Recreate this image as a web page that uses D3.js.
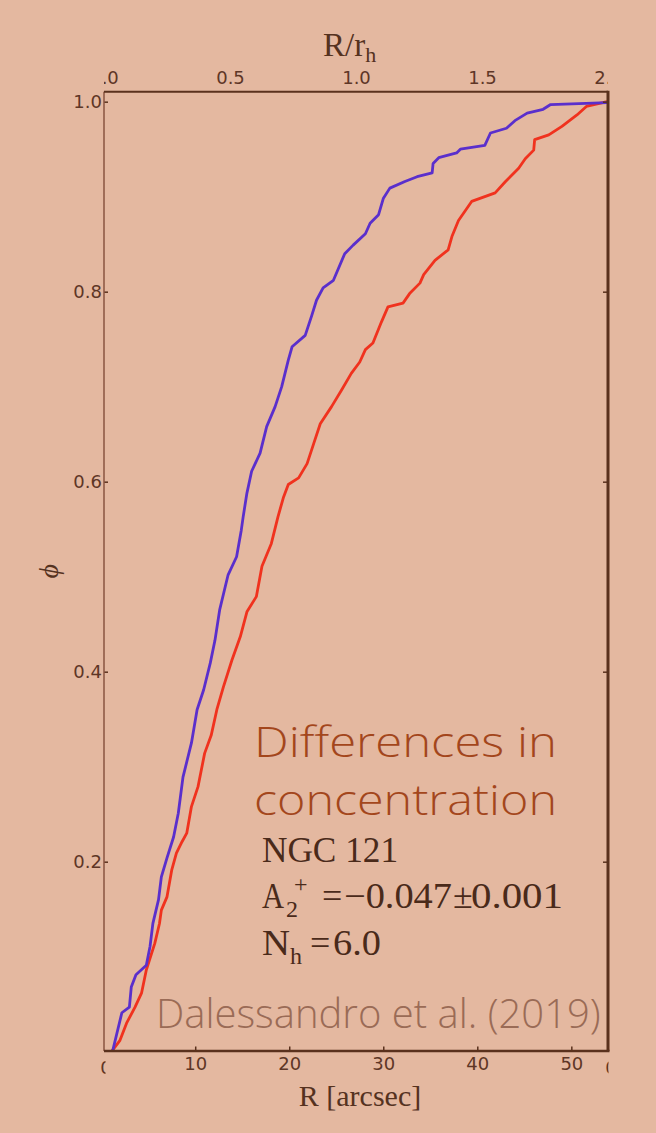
<!DOCTYPE html>
<html>
<head>
<meta charset="utf-8">
<script src="https://cdn.jsdelivr.net/npm/d3@7"></script>
<style>
  body { margin: 0; background: #e4b8a0; }
  svg { display: block; }
</style>
</head>
<body>
<div id="chart"></div>
<script>
// ---- data ----
// R in arcsec, phi = cumulative fraction
const blueR   = [1.2, 2.2, 3.0, 3.2, 3.7, 4.8, 5.2, 5.5, 6.1, 6.4, 7.0, 7.7, 8.2, 8.7, 9.6, 10.2, 10.9, 11.6, 12.1, 12.6, 13.5, 14.4, 14.9, 15.1, 15.5, 16.0, 16.9, 17.6, 18.5, 19.2, 19.9, 20.3, 21.7, 22.4, 22.9, 23.6, 24.7, 25.9, 26.8, 28.1, 28.6, 29.5, 30.0, 30.7, 32.3, 33.6, 35.2, 35.3, 35.9, 37.8, 38.2, 40.8, 41.4, 43.1, 44.0, 45.3, 47.0, 47.8, 53.8];
const bluePhi = [0, 0.041, 0.047, 0.068, 0.081, 0.091, 0.111, 0.135, 0.160, 0.184, 0.204, 0.226, 0.251, 0.289, 0.325, 0.360, 0.381, 0.409, 0.433, 0.465, 0.502, 0.521, 0.549, 0.563, 0.588, 0.611, 0.630, 0.658, 0.679, 0.700, 0.728, 0.742, 0.754, 0.775, 0.791, 0.804, 0.812, 0.840, 0.849, 0.861, 0.872, 0.881, 0.898, 0.909, 0.916, 0.921, 0.925, 0.935, 0.941, 0.946, 0.950, 0.954, 0.967, 0.972, 0.980, 0.988, 0.992, 0.997, 0.999];

const redR   = [1.1, 2.0, 2.7, 3.6, 4.3, 4.8, 5.7, 6.2, 6.4, 7.0, 7.5, 8.0, 8.6, 9.1, 9.6, 10.3, 11.0, 11.7, 12.3, 13.0, 13.9, 14.8, 15.5, 16.5, 17.1, 18.1, 18.8, 19.4, 19.9, 21.0, 21.9, 22.6, 23.3, 24.5, 25.6, 26.6, 27.5, 28.1, 28.9, 29.8, 30.5, 32.1, 32.8, 33.9, 34.3, 35.5, 36.9, 37.3, 38.0, 39.4, 41.9, 43.0, 44.4, 45.1, 46.0, 46.1, 47.6, 49.0, 50.6, 51.6, 53.8];
const redPhi = [0, 0.012, 0.030, 0.047, 0.062, 0.086, 0.114, 0.135, 0.149, 0.163, 0.191, 0.209, 0.221, 0.230, 0.258, 0.279, 0.314, 0.333, 0.360, 0.384, 0.412, 0.437, 0.463, 0.479, 0.511, 0.535, 0.563, 0.584, 0.597, 0.604, 0.619, 0.640, 0.661, 0.679, 0.697, 0.714, 0.726, 0.739, 0.746, 0.768, 0.784, 0.788, 0.798, 0.809, 0.818, 0.833, 0.844, 0.858, 0.875, 0.895, 0.904, 0.916, 0.930, 0.940, 0.949, 0.960, 0.965, 0.974, 0.986, 0.995, 1.0];

const bottomTicks = [10, 20, 30, 40, 50];
const topTicks = [0, 0.5, 1.0, 1.5, 2.0];
const topTickLabels = ["0.0", "0.5", "1.0", "1.5", "2.0"];
const leftTicks = [0.2, 0.4, 0.6, 0.8, 1.0];

const width = 656;
const height = 1133;
const plot = { left: 104, right: 608, top: 91.7, bottom: 1051 };

const svg = d3.select("#chart").append("svg")
  .attr("width", width)
  .attr("height", height);

svg.append("rect")
  .attr("width", width).attr("height", height)
  .attr("fill", "#e4b8a0");

const defs = svg.append("defs");
defs.append("clipPath").attr("id", "plotclip")
  .append("rect")
  .attr("x", plot.left).attr("y", plot.top)
  .attr("width", plot.right - plot.left).attr("height", plot.bottom - plot.top);
defs.append("clipPath").attr("id", "topclip")
  .append("rect")
  .attr("x", plot.left).attr("y", 0)
  .attr("width", plot.right - plot.left).attr("height", plot.top);
defs.append("clipPath").attr("id", "leftedge")
  .append("rect").attr("x", 95).attr("y", plot.bottom).attr("width", 10.5).attr("height", 40);
defs.append("clipPath").attr("id", "rightedge")
  .append("rect").attr("x", 600).attr("y", plot.bottom).attr("width", 8.5).attr("height", 40);

// scales
const x = d3.scaleLinear().domain([0.3, 53.9]).range([plot.left, plot.right]);
const xTop = d3.scaleLinear().domain([0, 2]).range([plot.left, plot.right]);
const y = d3.scaleLinear().domain([0, 1.0105]).range([1051.7, plot.top]);

const tickColor = "#5e3626";
const frameColor = "#5a311d";
const tickFont = "18px";

// lines
const line = d3.line().x(d => x(d[0])).y(d => y(d[1]));
const blue = blueR.map((r, i) => [r, bluePhi[i]]);
const red = redR.map((r, i) => [r, redPhi[i]]);

const lines = svg.append("g").attr("clip-path", "url(#plotclip)");
lines.append("path").datum(red)
  .attr("d", line)
  .attr("fill", "none")
  .attr("stroke", "#f0321e")
  .attr("stroke-width", 2.8)
  .attr("stroke-linejoin", "round");
lines.append("path").datum(blue)
  .attr("d", line)
  .attr("fill", "none")
  .attr("stroke", "#5a2fcc")
  .attr("stroke-width", 2.8)
  .attr("stroke-linejoin", "round");

// axes (ticks point inward)
function styleAxis(g) {
  g.select(".domain").remove();
  g.selectAll(".tick line").attr("stroke", frameColor).attr("stroke-width", 1.5);
  g.selectAll(".tick text")
    .attr("fill", tickColor)
    .attr("font-family", "DejaVu Sans")
    .attr("font-size", tickFont);
}

svg.append("g")
  .attr("transform", `translate(0,${plot.bottom})`)
  .call(d3.axisBottom(x).tickValues(bottomTicks).tickSize(-4.5).tickPadding(6).tickFormat(d3.format("d")))
  .call(styleAxis);

svg.append("g")
  .attr("clip-path", "url(#topclip)")
  .append("g")
  .attr("transform", `translate(0,${plot.top})`)
  .call(d3.axisTop(xTop).tickValues(topTicks).tickSize(-4.5).tickPadding(8).tickFormat((d, i) => topTickLabels[i]))
  .call(styleAxis);

svg.append("g")
  .attr("transform", `translate(${plot.left},0)`)
  .call(d3.axisLeft(y).tickValues(leftTicks).tickSize(-4).tickPadding(2).tickFormat(d3.format(".1f")))
  .call(styleAxis);

svg.append("g")
  .attr("transform", `translate(${plot.right},0)`)
  .call(d3.axisRight(y).tickValues(leftTicks).tickSize(-5).tickFormat(""))
  .call(styleAxis);

// clipped edge labels on the bottom axis
svg.append("text").attr("clip-path", "url(#leftedge)")
  .attr("x", 106).attr("y", plot.bottom + 23)
  .attr("text-anchor", "middle").attr("fill", tickColor)
  .attr("font-family", "DejaVu Sans").attr("font-size", tickFont).text("0");
svg.append("text").attr("clip-path", "url(#rightedge)")
  .attr("x", 611).attr("y", plot.bottom + 23)
  .attr("text-anchor", "middle").attr("fill", tickColor)
  .attr("font-family", "DejaVu Sans").attr("font-size", tickFont).text("0");

// frame
const frame = svg.append("g").attr("fill", "none").attr("stroke", frameColor);
frame.append("line").attr("x1", plot.left).attr("x2", plot.left).attr("y1", plot.top).attr("y2", plot.bottom)
  .attr("stroke", "#8a5540").attr("stroke-width", 1.5);
frame.append("line").attr("x1", plot.left).attr("x2", plot.right).attr("y1", plot.top).attr("y2", plot.top)
  .attr("stroke-width", 2);
frame.append("line").attr("x1", plot.left).attr("x2", plot.right + 1.5).attr("y1", plot.bottom).attr("y2", plot.bottom)
  .attr("stroke-width", 2.5);
frame.append("line").attr("x1", plot.right).attr("x2", plot.right).attr("y1", plot.top - 1).attr("y2", plot.bottom)
  .attr("stroke-width", 3);

// axis labels
const serif = "Liberation Serif";
const labelColor = "#55321f";

const topLabel = svg.append("text")
  .attr("x", 323).attr("y", 56)
  .attr("font-family", serif).attr("font-size", "33px").attr("fill", labelColor);
topLabel.append("tspan").text("R/r");
topLabel.append("tspan").attr("font-size", "22px").attr("dy", 6).text("h");

svg.append("text")
  .attr("x", (plot.left + plot.right) / 2 + 4).attr("y", 1106)
  .attr("text-anchor", "middle")
  .attr("font-family", serif).attr("font-size", "30px").attr("fill", labelColor)
  .text("R [arcsec]");

svg.append("text")
  .attr("transform", `translate(58,${(plot.top + plot.bottom) / 2}) rotate(-90)`)
  .attr("text-anchor", "middle")
  .attr("font-family", serif).attr("font-style", "italic")
  .attr("font-size", "28px").attr("fill", labelColor)
  .text("\u03d5");

// annotation
const sans = "Open Sans";
svg.append("text")
  .attr("x", 254).attr("y", 757)
  .attr("font-family", sans).attr("font-weight", 300)
  .attr("font-size", "42px").attr("fill", "#a3461c")
  .attr("textLength", 303).attr("lengthAdjust", "spacingAndGlyphs")
  .text("Differences in");
svg.append("text")
  .attr("x", 254).attr("y", 815)
  .attr("font-family", sans).attr("font-weight", 300)
  .attr("font-size", "42px").attr("fill", "#a3461c")
  .attr("textLength", 303).attr("lengthAdjust", "spacingAndGlyphs")
  .text("concentration");

const mathColor = "#4a2a1a";
const mathSize = 36;
function mathText(xx, yy, str, len) {
  const t = svg.append("text")
    .attr("x", xx).attr("y", yy)
    .attr("font-family", serif).attr("font-size", mathSize + "px")
    .attr("fill", mathColor)
    .text(str);
  if (len) t.attr("textLength", len).attr("lengthAdjust", "spacingAndGlyphs");
  return t;
}
mathText(262, 862, "NGC 121", 136);

mathText(262, 908, "A", 22);
svg.append("text").attr("x", 286).attr("y", 917)
  .attr("font-family", serif).attr("font-size", "24px").attr("fill", mathColor).text("2");
svg.append("text").attr("x", 294).attr("y", 892)
  .attr("font-family", serif).attr("font-size", "24px").attr("fill", mathColor).text("+");
mathText(322, 908, "=");
mathText(344, 908, "\u22120.047", 108);
mathText(453, 908, "\u00b1");
mathText(471, 908, "0.001", 92);

mathText(262, 955, "N", 28);
svg.append("text").attr("x", 290).attr("y", 964)
  .attr("font-family", serif).attr("font-size", "24px").attr("fill", mathColor).text("h");
mathText(310, 955, "=");
mathText(333, 955, "6.0", 48);

svg.append("text")
  .attr("x", 156).attr("y", 1028)
  .attr("font-family", sans).attr("font-weight", 300)
  .attr("font-size", "40px").attr("fill", "#9a6b56")
  .text("Dalessandro et al. (2019)");
</script>
</body>
</html>
